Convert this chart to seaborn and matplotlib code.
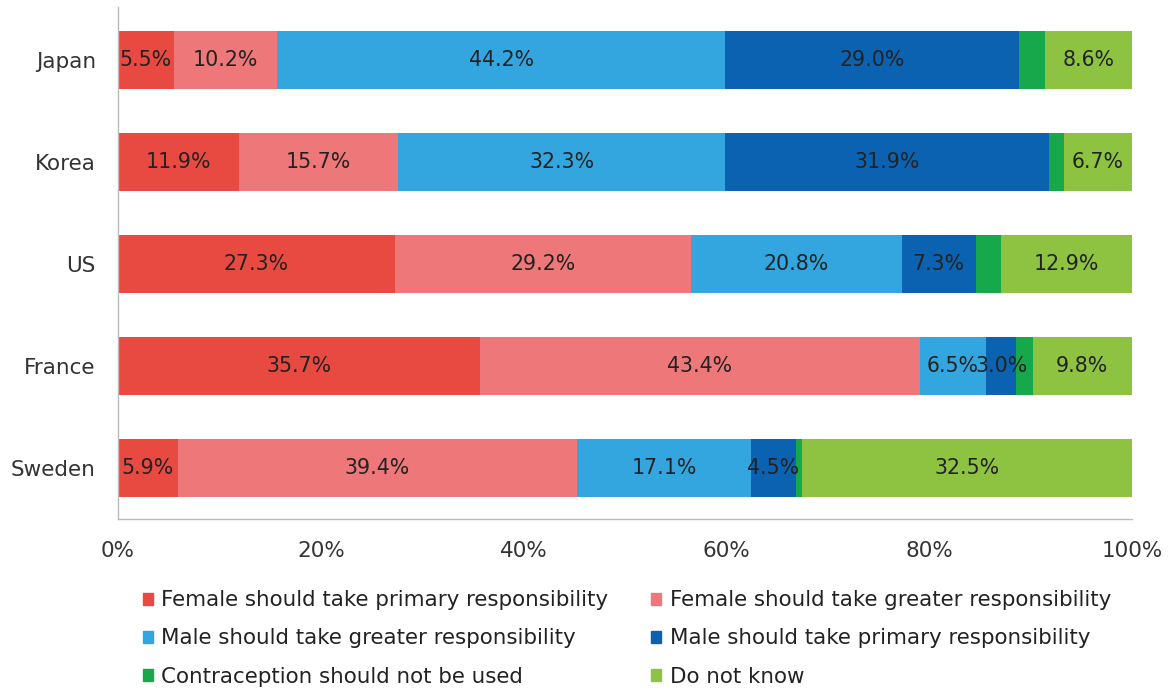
import matplotlib
matplotlib.use("Agg")
import matplotlib.pyplot as plt
import matplotlib.patches as mpatches
import numpy as np
import pandas as pd
import seaborn as sns

countries = ["Japan", "Korea", "US", "France", "Sweden"]
categories = [
    "Female should take primary responsibility",
    "Female should take greater responsibility",
    "Male should take greater responsibility",
    "Male should take primary responsibility",
    "Contraception should not be used",
    "Do not know",
]
female_primary = [5.5, 11.9, 27.3, 35.7, 5.9]
female_greater = [10.2, 15.7, 29.2, 43.4, 39.4]
male_greater = [44.2, 32.3, 20.8, 6.5, 17.1]
male_primary = [29.0, 31.9, 7.3, 3.0, 4.5]
no_contraception = [2.5, 1.5, 2.5, 1.6, 0.6]
do_not_know = [8.6, 6.7, 12.9, 9.8, 32.5]

colors = ["#E84A42", "#EE7779", "#33A5DF", "#0A62B0", "#16A84A", "#8DC341"]
labelled = [True, True, True, True, False, True]

series = [female_primary, female_greater, male_greater, male_primary,
          no_contraception, do_not_know]

sns.set_theme(style="white")
plt.rcParams["font.family"] = ["DejaVu Sans"]

fig = plt.figure(figsize=(11.74, 6.9), dpi=100)
ax = fig.add_axes([0.1005, 0.2478, 0.8637, 0.7421])

values = np.array(series)            # shape (categories, countries)
cum = np.cumsum(values, axis=0)

# Stacked bars: draw cumulative totals from the outermost segment inward
for i in range(len(categories) - 1, -1, -1):
    df = pd.DataFrame({"country": countries, "total": cum[i]})
    sns.barplot(data=df, x="total", y="country", order=countries,
                color=colors[i], orient="h", width=0.57, ax=ax,
                saturation=1, edgecolor="none", linewidth=0)

# Value labels at segment centres
for i in range(len(categories)):
    if not labelled[i]:
        continue
    for j, c in enumerate(countries):
        v = values[i, j]
        centre = cum[i, j] - v / 2
        ax.text(centre, j, f"{v:.1f}%", ha="center", va="center",
                fontsize=14.8, color="#222222")

ax.set_xlim(0, 100)
ax.set_ylim(4.5, -0.52)
ax.set_xticks([0, 20, 40, 60, 80, 100])
ax.set_xticklabels([f"{t}%" for t in [0, 20, 40, 60, 80, 100]])
ax.set_xlabel("")
ax.set_ylabel("")
ax.tick_params(axis="x", length=0, pad=16, labelsize=15.5, labelcolor="#333333")
ax.tick_params(axis="y", length=0, pad=16, labelsize=15.5, labelcolor="#333333")

for s in ["top", "right"]:
    ax.spines[s].set_visible(False)
ax.spines["left"].set_color("#BBBBBB")
ax.spines["bottom"].set_color("#BBBBBB")
ax.spines["left"].set_linewidth(1)
ax.spines["bottom"].set_linewidth(1)

handles = [mpatches.Patch(color=colors[i], label=categories[i]) for i in range(6)]
order = [0, 2, 4, 1, 3, 5]
fig.legend([handles[k] for k in order], [categories[k] for k in order],
           loc="upper left", bbox_to_anchor=(0.1143, 0.157), ncol=2,
           frameon=False, fontsize=15.4, handlelength=0.47, handleheight=0.47,
           handletextpad=0.4, columnspacing=2.0, labelspacing=0.85,
           labelcolor="#222222", borderaxespad=0)

fig.savefig("out.png", dpi=100)
